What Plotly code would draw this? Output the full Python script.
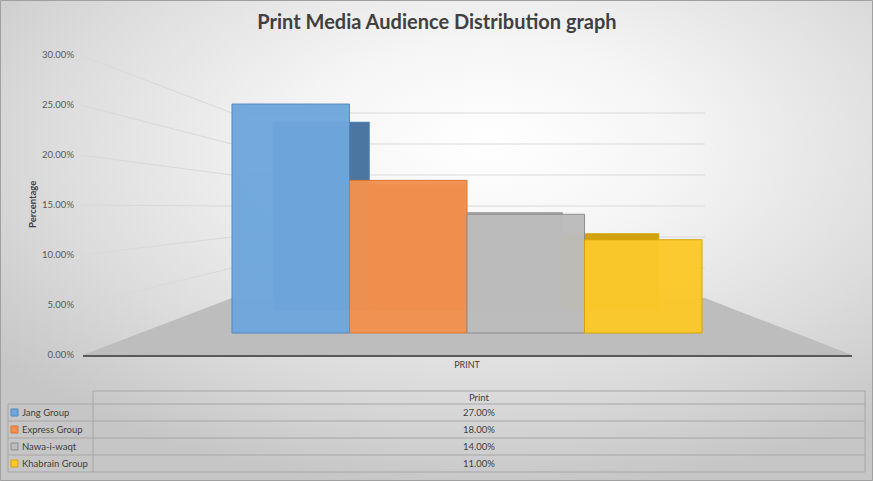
import base64
import plotly.graph_objects as go

# data
title = "Print Media Audience Distribution graph"
groups = ["Jang Group", "Express Group", "Nawa-i-waqt", "Khabrain Group"]
print_share = [27.0, 18.0, 14.0, 11.0]
y_ticks = [0, 5, 10, 15, 20, 25, 30]
category = "PRINT"
table_header = "Print"

front_colors = ["#6fa7dc", "#f2914f", "#bcbcbc", "#fbc92a"]
edge_colors = ["#4f86c0", "#d9742f", "#8c8c8c", "#d6a400"]
back_colors = ["#4c76a2", "#c8652a", "#a9a9a3", "#d2a20e"]

W, H = 873, 481
L, R, T, B = 83, 852, 55, 355  # plot area in pixels


def px(x):
    return (x - L) / (R - L)


def py(y):
    return (B - y) / (B - T)


# fake 3D: front face and back face share one vanishing point
bar_left, bar_w = 232, 117.5
floor_y, y_unit = 333, 8.48      # front face: pixel = floor_y - y_unit * value
vp_x, vp_y, depth = 461, 205, 0.821
axis_zero, axis_unit = 355, 10.0  # where the printed tick labels sit

fx0 = bar_left + bar_w / 2
by0 = vp_y + depth * (floor_y - vp_y)

pos = list(range(len(groups)))
back_x = [(vp_x + depth * (fx0 + bar_w * i - vp_x) - fx0) / bar_w for i in pos]
back_base = (floor_y - by0) / y_unit
back_h = [depth * v for v in print_share]

tick_pos = [(floor_y - (axis_zero - axis_unit * t)) / y_unit for t in y_ticks]
tick_txt = [f"{t:.2f}%" for t in y_ticks]

fig = go.Figure()

for i, g in enumerate(groups):
    fig.add_trace(go.Bar(
        x=[back_x[i]], y=[back_h[i]], base=back_base, width=depth, name=g,
        marker=dict(color=back_colors[i], line=dict(color=edge_colors[i], width=0.6)),
        hoverinfo="skip",
    ))

for i, g in enumerate(groups):
    fig.add_trace(go.Bar(
        x=[pos[i]], y=[print_share[i]], width=1, name=g,
        marker=dict(color=front_colors[i], opacity=0.97,
                    line=dict(color=edge_colors[i], width=1)),
        hovertemplate=g + ": %{y:.2f}%<extra></extra>",
    ))

# background gradient as svg
svg = (
    '<svg xmlns="http://www.w3.org/2000/svg" width="873" height="481">'
    '<defs><radialGradient id="g" cx="0.56" cy="0.3" r="0.72">'
    '<stop offset="0" stop-color="#ffffff"/>'
    '<stop offset="0.3" stop-color="#f5f5f5"/>'
    '<stop offset="0.7" stop-color="#dcdcdc"/>'
    '<stop offset="1" stop-color="#c6c6c6"/>'
    '</radialGradient></defs>'
    '<rect width="873" height="481" fill="url(#g)"/></svg>'
)
bg = "data:image/svg+xml;base64," + base64.b64encode(svg.encode()).decode()

shapes = []
# floor
shapes.append(dict(
    type="path", xref="paper", yref="paper", layer="below",
    path=f"M {px(83)} {py(355)} L {px(232)} {py(298)} L {px(705)} {py(298)} L {px(852)} {py(355)} Z",
    fillcolor="#bdbdbd", line=dict(width=0),
))
# wall gridlines
for v in y_ticks[1:]:
    wy = 299 - 6.2 * v
    shapes.append(dict(type="line", xref="paper", yref="paper", layer="below",
                       x0=px(80), y0=py(355 - 10 * v), x1=px(232), y1=py(wy),
                       line=dict(color="#d9d9d9", width=1)))
    shapes.append(dict(type="line", xref="paper", yref="paper", layer="below",
                       x0=px(232), y0=py(wy), x1=px(705), y1=py(wy),
                       line=dict(color="#d9d9d9", width=1)))

# data table
tcol = "#a6a6a6"
rows_y = [404, 421, 438, 455, 472]
shapes.append(dict(type="line", xref="paper", yref="paper",
                   x0=px(93), x1=px(865), y0=py(391), y1=py(391), line=dict(color=tcol, width=1)))
for ry in rows_y:
    shapes.append(dict(type="line", xref="paper", yref="paper",
                       x0=px(8), x1=px(865), y0=py(ry), y1=py(ry), line=dict(color=tcol, width=1)))
for vx, top in [(8, 404), (93, 391), (865, 391)]:
    shapes.append(dict(type="line", xref="paper", yref="paper",
                       x0=px(vx), x1=px(vx), y0=py(top), y1=py(472), line=dict(color=tcol, width=1)))
# frame
shapes.append(dict(type="rect", xref="paper", yref="paper",
                   x0=px(0.5), x1=px(872.5), y0=py(0.5), y1=py(480.5),
                   line=dict(color="#a0a0a0", width=1)))

annotations = []
font_small = dict(family="Lato", size=9.5, color="#404040")
annotations.append(dict(x=px(479), y=py(397.5), xref="paper", yref="paper",
                        xanchor="center", yanchor="middle",
                        text=table_header, showarrow=False, font=font_small))
for i, g in enumerate(groups):
    cy = (rows_y[i] + rows_y[i + 1]) / 2
    shapes.append(dict(type="rect", xref="paper", yref="paper",
                       x0=px(11), x1=px(18), y0=py(cy - 3.5), y1=py(cy + 3.5),
                       fillcolor=front_colors[i], line=dict(color=edge_colors[i], width=1)))
    annotations.append(dict(x=px(20), y=py(cy), xref="paper", yref="paper",
                            xanchor="left", yanchor="middle",
                            text=g, showarrow=False, font=font_small))
    annotations.append(dict(x=px(479), y=py(cy), xref="paper", yref="paper",
                            xanchor="center", yanchor="middle",
                            text=f"{print_share[i]:.2f}%", showarrow=False, font=font_small))

annotations.append(dict(x=px(32), y=py(205), xref="paper", yref="paper", textangle=-90,
                        xanchor="center", yanchor="middle",
                        text="<b>Percentage</b>", showarrow=False,
                        font=dict(family="Lato", size=9.5, color="#404040")))

fig.update_layout(
    width=W, height=H,
    margin=dict(l=L, r=W - R, t=T, b=H - B),
    paper_bgcolor="#e6e6e6", plot_bgcolor="rgba(0,0,0,0)",
    barmode="overlay", showlegend=False,
    title=dict(text=title, x=437 / W, y=1 - 22 / H, xref="container", yref="container",
               xanchor="center", yanchor="middle",
               font=dict(family="Lato", size=20, color="#404040", weight="bold")),
    xaxis=dict(range=[(L - fx0) / bar_w, (R - fx0) / bar_w], showgrid=False, zeroline=False,
               showline=True, linecolor="#595959", linewidth=1.5,
               tickvals=[(len(groups) - 1) / 2], ticktext=[category], ticks="",
               tickfont=dict(family="Lato", size=9, color="#404040"), fixedrange=True),
    yaxis=dict(range=[(floor_y - B) / y_unit, (floor_y - T) / y_unit],
               tickvals=tick_pos, ticktext=tick_txt,
               showgrid=False, zeroline=False, showline=False, ticklabelstandoff=8,
               tickfont=dict(family="Lato", size=9.5, color="#595959"), fixedrange=True),
    images=[dict(source=bg, xref="paper", yref="paper", x=px(0), y=py(0),
                 sizex=W / (R - L), sizey=H / (B - T), sizing="stretch",
                 xanchor="left", yanchor="top", layer="below")],
    shapes=shapes,
    annotations=annotations,
)

fig.write_html("out.html", config={"displayModeBar": False},
               post_script="document.body.style.margin='0';")
